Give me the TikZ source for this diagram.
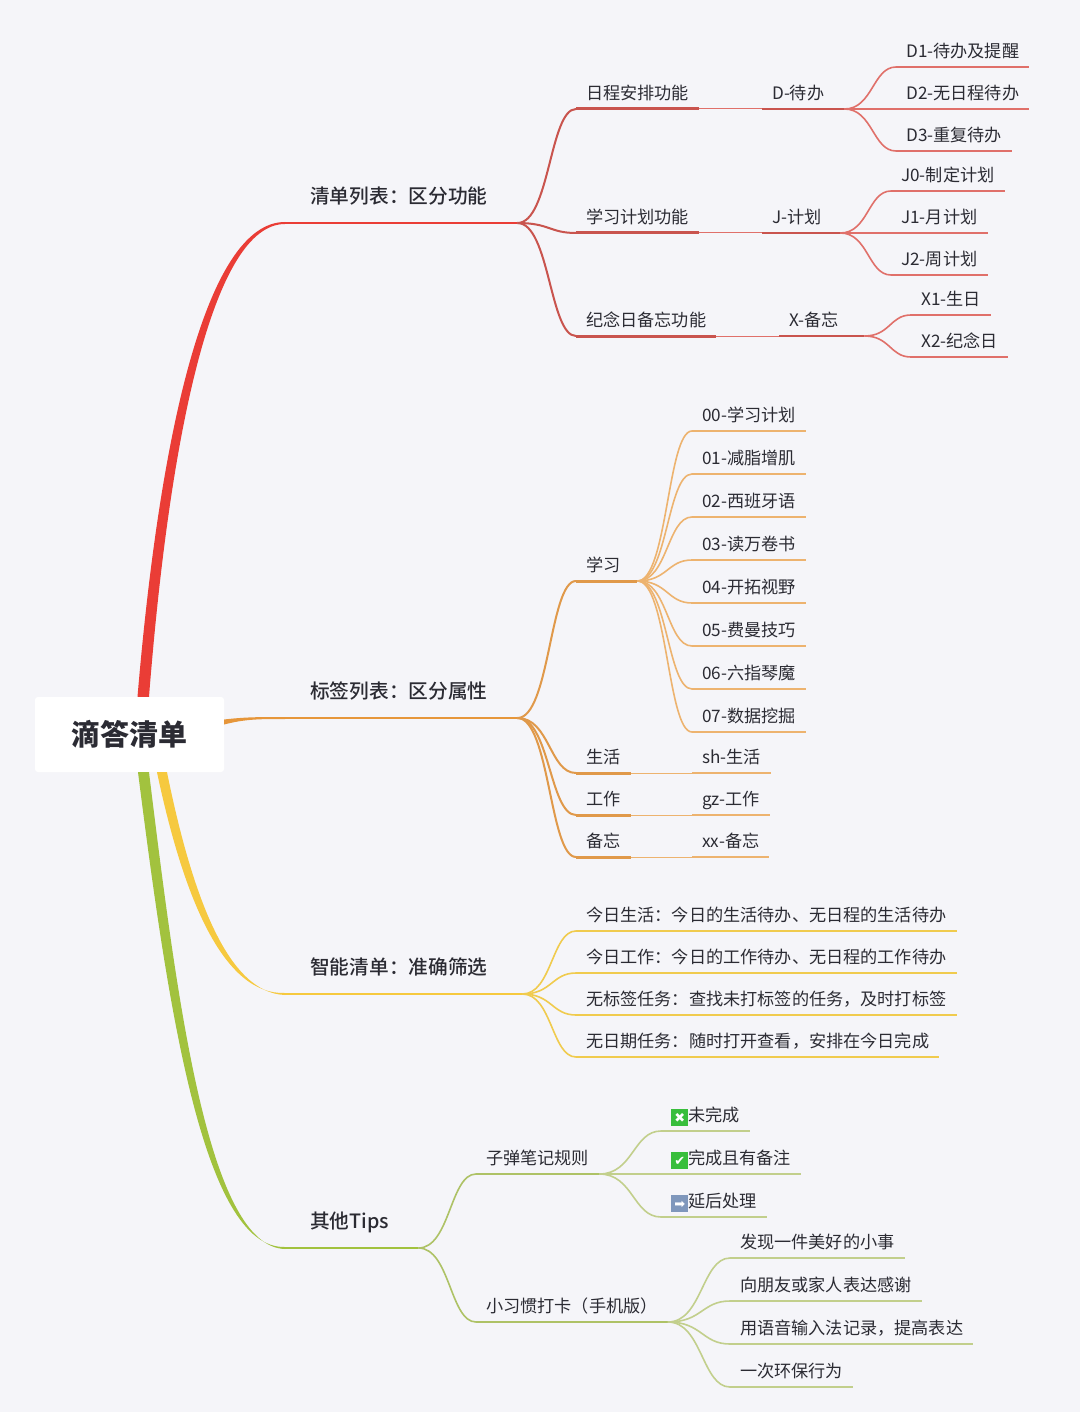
\documentclass[tikz,border=0pt]{standalone}
\usepackage{fontspec}
\setmainfont{Noto Sans CJK SC}
\newfontfamily\iconfont{DejaVu Sans}
\newfontfamily\hubfont{Noto Sans CJK SC Medium}
\usetikzlibrary{calc}
\definecolor{paper}{HTML}{F5F5F9}
\definecolor{ink}{HTML}{2B2B33}
\definecolor{redmain}{HTML}{EA3D36}
\definecolor{redsub}{HTML}{C9544E}
\definecolor{redleaf}{HTML}{E0706A}
\definecolor{orangemain}{HTML}{E6963A}
\definecolor{orangesub}{HTML}{E0994A}
\definecolor{orangeleaf}{HTML}{EDB36F}
\definecolor{yellowmain}{HTML}{F6C93F}
\definecolor{yellowsub}{HTML}{F0CB4E}
\definecolor{greenmain}{HTML}{A2C23E}
\definecolor{greensub}{HTML}{AEC266}
\definecolor{greenleaf}{HTML}{C2CF8C}
\definecolor{icongreen}{HTML}{38BE3C}
\definecolor{iconblue}{HTML}{7F97BC}
\newcommand{\tagicon}[2]{\raisebox{-1.5pt}{\setlength{\fboxsep}{0pt}\colorbox{#1}{\makebox[17pt]{\rule[-3.5pt]{0pt}{17pt}\color{white}\iconfont\fontsize{13}{13}\selectfont #2}}}}
\tikzset{
	topic/.style={
		anchor=south west,
		inner xsep=10pt,
		inner ysep=9.5pt,
		text height=14pt,
		text depth=0pt,
		align=left,
		text=ink,
		font=\fontsize{17.15}{20}\selectfont
	},
	hub/.style={
		topic,
		inner xsep=25pt,
		inner ysep=19pt,
		font=\hubfont\fontsize{19.7}{22}\selectfont,
		append after command={(\tikzlastnode.south west) edge[draw=#1, line width=2pt] (\tikzlastnode.south east)}
	},
	branch/.style={
		topic,
		append after command={(\tikzlastnode.south west) edge[draw=#1, line width=3pt] (\tikzlastnode.south east)}
	},
	leaf/.style={
		topic,
		append after command={(\tikzlastnode.south west) edge[draw=#1, line width=1.6pt] (\tikzlastnode.south east)}
	},
	fork/.style={draw=#1, line width=1.6pt, to path={let \p1=(\tikztostart), \p2=(\tikztotarget), \n1={0.45*\x1+0.55*\x2} in .. controls (\n1,\y1) and (\n1,\y2) .. (\tikztotarget)}},
	trunk/.style={fork=#1, line width=2pt},
	link/.style={draw=#1, line width=1pt}
}

\begin{document}
\begin{tikzpicture}[x=1pt, y=-1pt]
	\useasboundingbox (0,0) rectangle (1080,1412);
	\fill [paper] (0,0) rectangle (1080,1412);

	% centre
	\node (root) [fill=white, rounded corners=3pt, minimum width=189pt, minimum height=75pt, text=ink, font=\fontsize{29}{32}\selectfont\bfseries] at (129.5,734.5) {滴答清单};

	% first level
	\node (lists) [hub=redmain, text width=182pt] at (285,223) {清单列表：区分功能};
	\node (tags) [hub=orangemain, text width=182pt] at (285,718) {标签列表：区分属性};
	\node (smart) [hub=yellowmain, text width=187pt] at (285,994) {智能清单：准确筛选};
	\node (tips) [hub=greenmain, text width=83pt] at (285,1248) {其他Tips};

	% red part
	\node (sched) [branch=redsub] at (576,109) {日程安排功能};
	\node (todo) [leaf=redsub, text width=62pt] at (762,109) {D-待办};
	\node (d1) [leaf=redleaf] at (896,67) {D1-待办及提醒};
	\node (d2) [leaf=redleaf] at (896,109) {D2-无日程待办};
	\node (d3) [leaf=redleaf] at (896,151) {D3-重复待办};
	\node (study) [branch=redsub] at (576,233) {学习计划功能};
	\node (plan) [leaf=redsub, text width=58pt] at (762,233) {J-计划};
	\node (j0) [leaf=redleaf] at (891,191) {J0-制定计划};
	\node (j1) [leaf=redleaf] at (891,233) {J1-月计划};
	\node (j2) [leaf=redleaf] at (891,275) {J2-周计划};
	\node (memo) [branch=redsub] at (576,336) {纪念日备忘功能};
	\node (note) [leaf=redsub, text width=65pt] at (779,336) {X-备忘};
	\node (x1) [leaf=redleaf] at (911,315) {X1-生日};
	\node (x2) [leaf=redleaf] at (911,357) {X2-纪念日};

	% orange part
	\node (learn) [branch=orangesub, text width=41pt] at (576,581) {学习};
	\node (t0) [leaf=orangeleaf] at (692,431) {00-学习计划};
	\node (t1) [leaf=orangeleaf] at (692,474) {01-减脂增肌};
	\node (t2) [leaf=orangeleaf] at (692,517) {02-西班牙语};
	\node (t3) [leaf=orangeleaf] at (692,560) {03-读万卷书};
	\node (t4) [leaf=orangeleaf] at (692,603) {04-开拓视野};
	\node (t5) [leaf=orangeleaf] at (692,646) {05-费曼技巧};
	\node (t6) [leaf=orangeleaf] at (692,689) {06-六指琴魔};
	\node (t7) [leaf=orangeleaf] at (692,732) {07-数据挖掘};
	\node (life) [branch=orangesub] at (576,773) {生活};
	\node (sh) [leaf=orangeleaf] at (692,773) {sh-生活};
	\node (work) [branch=orangesub] at (576,815) {工作};
	\node (gz) [leaf=orangeleaf] at (692,815) {gz-工作};
	\node (spare) [branch=orangesub] at (576,857) {备忘};
	\node (xx) [leaf=orangeleaf] at (692,857) {xx-备忘};

	% yellow part
	\node (s1) [leaf=yellowsub] at (576,931) {今日生活：今日的生活待办、无日程的生活待办};
	\node (s2) [leaf=yellowsub] at (576,973) {今日工作：今日的工作待办、无日程的工作待办};
	\node (s3) [leaf=yellowsub] at (576,1015) {无标签任务：查找未打标签的任务，及时打标签};
	\node (s4) [leaf=yellowsub] at (576,1057) {无日期任务：随时打开查看，安排在今日完成};

	% green part
	\node (bullet) [leaf=greensub] at (476,1174) {子弹笔记规则};
	\node (b1) [leaf=greenleaf] at (661,1131) {\tagicon{icongreen}{✖}未完成};
	\node (b2) [leaf=greenleaf] at (661,1174) {\tagicon{icongreen}{✔}完成且有备注};
	\node (b3) [leaf=greenleaf] at (661,1217) {\tagicon{iconblue}{➡}延后处理};
	\node (habit) [leaf=greensub] at (476,1322) {小习惯打卡（手机版）};
	\node (h1) [leaf=greenleaf] at (730,1258) {发现一件美好的小事};
	\node (h2) [leaf=greenleaf] at (730,1301) {向朋友或家人表达感谢};
	\node (h3) [leaf=greenleaf] at (730,1344) {用语音输入法记录，提高表达};
	\node (h4) [leaf=greenleaf] at (730,1387) {一次环保行为};

	% main branches, thick at the centre
	\fill [redmain] ([xshift=8pt]root.north) .. controls (160,430) and (207,222) .. ([yshift=1pt]lists.south west) -- ([yshift=-1pt]lists.south west) .. controls (214,224) and (170,430) .. ([xshift=19.5pt]root.north) -- cycle;
	\fill [orangemain] ([yshift=15pt]root.east) .. controls (245,717) and (260,717) .. ([yshift=1pt]tags.south west) -- ([yshift=-1pt]tags.south west) .. controls (260,719) and (245,719) .. ([yshift=10pt]root.east) -- cycle;
	\fill [yellowmain] ([xshift=27.5pt]root.south) .. controls (184,900) and (224,995) .. ([yshift=1pt]smart.south west) -- ([yshift=-1pt]smart.south west) .. controls (229,993) and (193,900) .. ([xshift=37.5pt]root.south) -- cycle;
	\fill [greenmain] ([xshift=8.5pt]root.south) .. controls (167,1000) and (202,1249) .. ([yshift=1pt]tips.south west) -- ([yshift=-1pt]tips.south west) .. controls (208,1247) and (177,1000) .. ([xshift=19.5pt]root.south) -- cycle;

	% red connectors
	\draw [trunk=redsub] (lists.south east) to (sched.south west);
	\draw [trunk=redsub] (lists.south east) to (study.south west);
	\draw [trunk=redsub] (lists.south east) to (memo.south west);
	\draw [link=redleaf] (sched.south east) -- (todo.south west);
	\draw [link=redleaf] (study.south east) -- (plan.south west);
	\draw [link=redleaf] (memo.south east) -- (note.south west);
	\draw [fork=redleaf] (todo.south east) to (d1.south west);
	\draw [fork=redleaf] (todo.south east) to (d2.south west);
	\draw [fork=redleaf] (todo.south east) to (d3.south west);
	\draw [fork=redleaf] (plan.south east) to (j0.south west);
	\draw [fork=redleaf] (plan.south east) to (j1.south west);
	\draw [fork=redleaf] (plan.south east) to (j2.south west);
	\draw [fork=redleaf] (note.south east) to (x1.south west);
	\draw [fork=redleaf] (note.south east) to (x2.south west);

	% orange connectors
	\draw [trunk=orangesub] (tags.south east) to (learn.south west);
	\draw [trunk=orangesub] (tags.south east) to (life.south west);
	\draw [trunk=orangesub] (tags.south east) to (work.south west);
	\draw [trunk=orangesub] (tags.south east) to (spare.south west);
	\draw [fork=orangeleaf] (learn.south east) to (t0.south west);
	\draw [fork=orangeleaf] (learn.south east) to (t1.south west);
	\draw [fork=orangeleaf] (learn.south east) to (t2.south west);
	\draw [fork=orangeleaf] (learn.south east) to (t3.south west);
	\draw [fork=orangeleaf] (learn.south east) to (t4.south west);
	\draw [fork=orangeleaf] (learn.south east) to (t5.south west);
	\draw [fork=orangeleaf] (learn.south east) to (t6.south west);
	\draw [fork=orangeleaf] (learn.south east) to (t7.south west);
	\draw [link=orangeleaf] (life.south east) -- (sh.south west);
	\draw [link=orangeleaf] (work.south east) -- (gz.south west);
	\draw [link=orangeleaf] (spare.south east) -- (xx.south west);

	% yellow connectors
	\draw [fork=yellowsub] (smart.south east) to (s1.south west);
	\draw [fork=yellowsub] (smart.south east) to (s2.south west);
	\draw [fork=yellowsub] (smart.south east) to (s3.south west);
	\draw [fork=yellowsub] (smart.south east) to (s4.south west);

	% green connectors
	\draw [fork=greensub] (tips.south east) to (bullet.south west);
	\draw [fork=greensub] (tips.south east) to (habit.south west);
	\draw [fork=greenleaf] (bullet.south east) to (b1.south west);
	\draw [fork=greenleaf] (bullet.south east) to (b2.south west);
	\draw [fork=greenleaf] (bullet.south east) to (b3.south west);
	\draw [fork=greenleaf] (habit.south east) to (h1.south west);
	\draw [fork=greenleaf] (habit.south east) to (h2.south west);
	\draw [fork=greenleaf] (habit.south east) to (h3.south west);
	\draw [fork=greenleaf] (habit.south east) to (h4.south west);
\end{tikzpicture}
\end{document}
